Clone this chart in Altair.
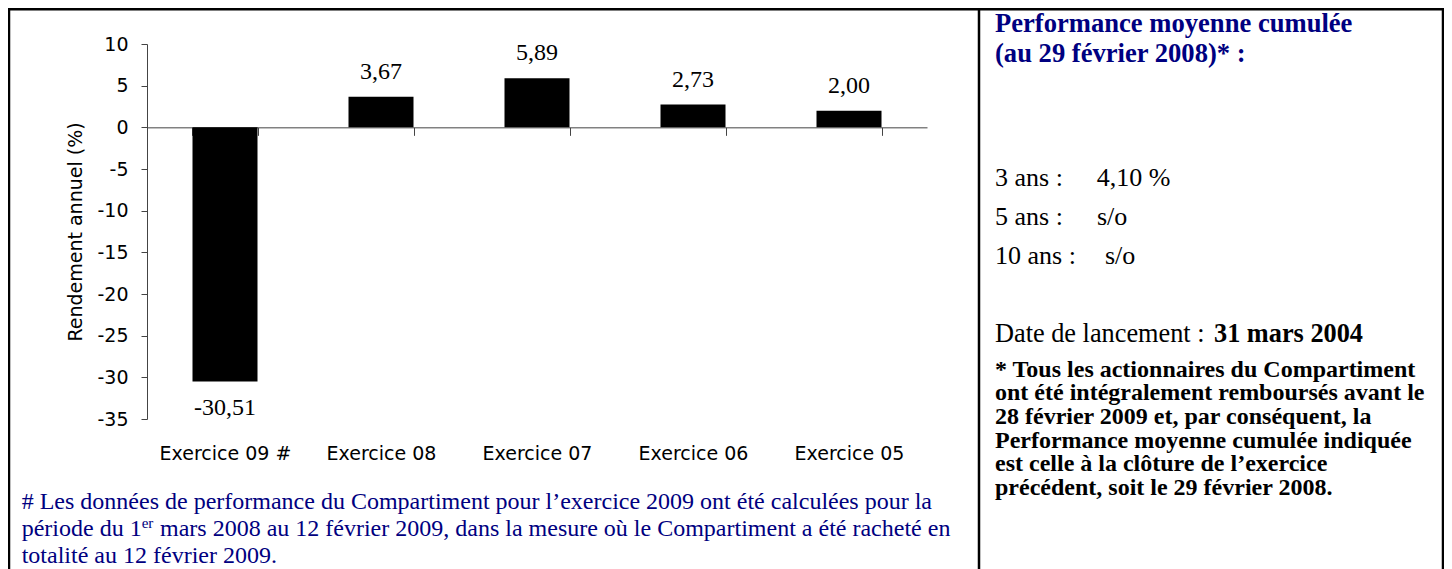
import altair as alt
import pandas as pd

# ---------------- data ----------------
categories = ["Exercice 09 #", "Exercice 08", "Exercice 07", "Exercice 06", "Exercice 05"]
returns = [-30.51, 3.67, 5.89, 2.73, 2.00]
y_ticks = [10, 5, 0, -5, -10, -15, -20, -25, -30, -35]
y_title = "Rendement annuel (%)"

panel_title = ["Performance moyenne cumulée", "(au 29 février 2008)* :"]
perf_periods = ["3 ans :", "5 ans :", "10 ans :"]
perf_values = ["4,10 %", "s/o", "s/o"]
launch_label = "Date de lancement :"
launch_date = "31 mars 2004"
star_note = [
    "* Tous les actionnaires du Compartiment",
    "ont été intégralement remboursés avant le",
    "28 février 2009 et, par conséquent, la",
    "Performance moyenne cumulée indiquée",
    "est celle à la clôture de l’exercice",
    "précédent, soit le 29 février 2008.",
]
hash_note_1 = "# Les données de performance du Compartiment pour l’exercice 2009 ont été calculées pour la"
hash_note_2a = "période du 1"
hash_note_2sup = "er"
hash_note_2b = "mars 2008 au 12 février 2009, dans la mesure où le Compartiment a été racheté en"
hash_note_3 = "totalité au 12 février 2009."

# ---------------- layout / style ----------------
W, H = 780, 375
PL, PT = 139, 36
TOTAL_W, TOTAL_H = 1436, 561
OX, OY = PL + 8, PT + 8  # screen position of plot origin
SANS = "DejaVu Sans"
SERIF = "Liberation Serif"
NAVY = "#000080"
AXIS_GREY = "#444444"


def sx(v):
    return v - OX


def sy(v):
    return v - OY


df = pd.DataFrame({"cat": categories, "val": returns})
df["lab"] = [f"{v:.2f}".replace(".", ",") for v in returns]

zero_px = H * 10 / 45

x_enc = alt.X(
    "cat:N",
    sort=categories,
    scale=alt.Scale(paddingInner=0.583, paddingOuter=0.2915),
    axis=alt.Axis(
        title=None,
        orient="bottom",
        offset=zero_px - H,
        tickBand="extent",
        tickSize=8,
        tickColor=AXIS_GREY,
        domainColor=AXIS_GREY,
        labelFont=SANS,
        labelFontSize=19,
        labelColor="black",
        labelPadding=309,
        labelAngle=0,
    ),
)
y_enc = alt.Y(
    "val:Q",
    scale=alt.Scale(domain=[-35, 10], nice=False, zero=False),
    axis=alt.Axis(
        values=y_ticks,
        title=y_title,
        titleFont=SANS,
        titleFontSize=19,
        titleFontWeight="normal",
        titleColor="black",
        titlePadding=11,
        grid=False,
        tickSize=6,
        tickColor=AXIS_GREY,
        domainColor=AXIS_GREY,
        labelFont=SANS,
        labelFontSize=19,
        labelColor="black",
        labelPadding=13,
        labelExpr="datum.value + ''",
    ),
)

base = alt.Chart(df)
bars = base.mark_bar(color="black", size=65).encode(x=x_enc, y=y_enc)
pos_labels = base.transform_filter("datum.val >= 0").mark_text(
    font=SERIF, fontSize=24, color="black", baseline="alphabetic", dy=-18
).encode(x=x_enc, y=y_enc, text="lab:N")
neg_labels = base.transform_filter("datum.val < 0").mark_text(
    font=SERIF, fontSize=24, color="black", baseline="alphabetic", dy=33.5
).encode(x=x_enc, y=y_enc, text="lab:N")

one = pd.DataFrame({"k": [0]})


def txt(content, x, y, size, weight="normal", color="black", font=SERIF, line_height=None):
    props = dict(
        text=content, font=font, fontSize=size, fontWeight=weight,
        color=color, align="left", baseline="alphabetic",
    )
    if line_height:
        props["lineHeight"] = line_height
    return alt.Chart(one).mark_text(**props).encode(x=alt.value(sx(x)), y=alt.value(sy(y)))


def vline(x, y1, y2, w=2.5):
    return alt.Chart(one).mark_rule(color="black", strokeWidth=w).encode(
        x=alt.value(sx(x)), y=alt.value(sy(y1)), y2=alt.value(sy(y2))
    )


def hline(x1, x2, y, w=2.5):
    return alt.Chart(one).mark_rule(color="black", strokeWidth=w).encode(
        x=alt.value(sx(x1)), x2=alt.value(sx(x2)), y=alt.value(sy(y))
    )


borders = [
    hline(9, 1444, 9.3),
    vline(9, 8, 569),
    vline(979, 8, 569),
    vline(1443, 8, 569),
]

texts = [
    txt(hash_note_1, 21.7, 509.3, 24, color=NAVY),
    txt(hash_note_2a, 21.7, 536, 24, color=NAVY),
    txt(hash_note_2sup, 141.7, 528, 15, color=NAVY),
    txt(hash_note_2b, 160, 536, 24, color=NAVY),
    txt(hash_note_3, 21.7, 562.7, 24, color=NAVY),
    txt(panel_title, 995, 31.7, 26.6, weight="bold", color=NAVY, line_height=30),
    txt(launch_label, 995, 341.7, 26.3),
    txt(launch_date, 1214, 341.7, 26.3, weight="bold"),
    txt(star_note, 995, 376.7, 24, weight="bold", line_height=23.66),
]
period_y = [185.7, 225, 264]
value_x = [1096.7, 1097, 1105]
for p, v, yy, vx in zip(perf_periods, perf_values, period_y, value_x):
    texts.append(txt(p, 995, yy, 26))
    texts.append(txt(v, vx, yy, 26))

chart = alt.layer(*borders, bars, pos_labels, neg_labels, *texts).properties(
    width=W,
    height=H,
    padding={"left": PL, "top": PT, "right": TOTAL_W - PL - W, "bottom": TOTAL_H - PT - H},
    autosize=alt.AutoSizeParams(type="none"),
    background="white",
).configure_view(stroke=None)

chart.save("out.html", embed_options={"renderer": "svg", "actions": False})
